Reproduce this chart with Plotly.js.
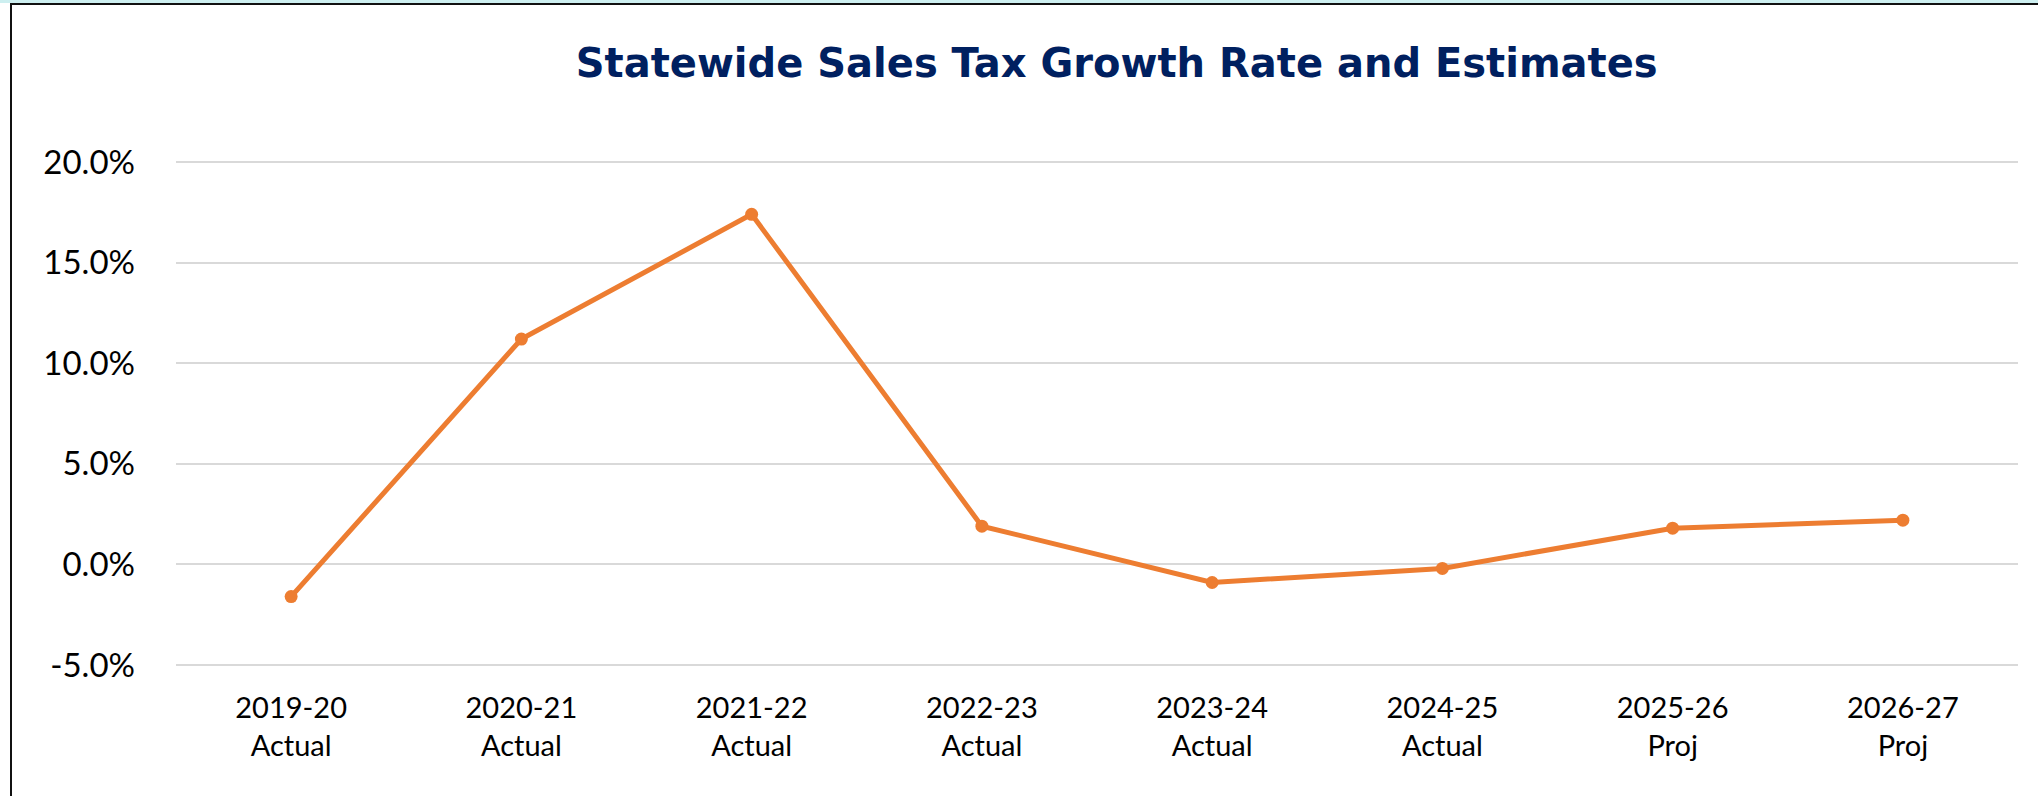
<!DOCTYPE html>
<html>
<head>
<meta charset="utf-8">
<script src="https://cdn.plot.ly/plotly-3.0.1.min.js"></script>
<style>
  html, body { margin: 0; padding: 0; background: #ffffff; }
  #wrap { position: relative; width: 2038px; height: 796px; overflow: hidden; background: #ffffff; }
  #chart { position: absolute; left: 0; top: 0; width: 2038px; height: 796px; }
  #strip { position: absolute; left: 0; top: 0; width: 2038px; height: 3px; background: #cdeff0; }
  #topline { position: absolute; left: 10px; top: 3px; width: 2028px; height: 2px; background: #111111; }
  #leftline { position: absolute; left: 10px; top: 3px; width: 2px; height: 793px; background: #111111; }
</style>
</head>
<body>
<div id="wrap">
  <div id="chart"></div>
  <div id="strip"></div>
  <div id="topline"></div>
  <div id="leftline"></div>
</div>
<script>
// Data (growth rate, %)
const years = ["2019-20", "2020-21", "2021-22", "2022-23", "2023-24", "2024-25", "2025-26", "2026-27"];
const status = ["Actual", "Actual", "Actual", "Actual", "Actual", "Actual", "Proj", "Proj"];
const growthRate = [-1.6, 11.2, 17.4, 1.9, -0.9, -0.2, 1.8, 2.2];
const yTickValues = [-5, 0, 5, 10, 15, 20];
const yTickLabels = ["-5.0%", "0.0%", "5.0%", "10.0%", "15.0%", "20.0%"];

const categories = years.map((y, i) => y + "<br>" + status[i]);

const trace = {
  type: "scatter",
  mode: "lines+markers",
  x: categories,
  y: growthRate,
  line: { color: "#ED7D31", width: 5 },
  marker: { color: "#ED7D31", size: 13 },
  hoverinfo: "x+y",
  showlegend: false
};

const layout = {
  width: 2038,
  height: 796,
  margin: { l: 176, r: 20, t: 161, b: 130, pad: 0 },
  paper_bgcolor: "#ffffff",
  plot_bgcolor: "#ffffff",
  showlegend: false,
  title: {
    text: "<b>Statewide Sales Tax Growth Rate and Estimates</b>",
    font: { family: "DejaVu Sans, Liberation Sans, Arial, sans-serif", size: 40, color: "#002060" },
    xref: "paper",
    x: 0.5107,
    xanchor: "center",
    yref: "container",
    y: 0.921,
    yanchor: "middle"
  },
  xaxis: {
    type: "category",
    range: [-0.5, categories.length - 0.5],
    showgrid: false,
    zeroline: false,
    showline: false,
    ticks: "",
    tickfont: { family: "Lato, Open Sans, sans-serif", size: 29, color: "#000000" },
    ticklabelstandoff: 22,
    fixedrange: true
  },
  yaxis: {
    range: [-5.05, 20.05],
    tickvals: yTickValues,
    ticktext: yTickLabels,
    showgrid: true,
    gridcolor: "#D9D9D9",
    gridwidth: 2,
    zeroline: false,
    showline: false,
    ticks: "",
    tickfont: { family: "Lato, sans-serif", size: 33, color: "#000000" },
    ticklabelstandoff: 40,
    fixedrange: true
  }
};

Plotly.newPlot("chart", [trace], layout, { displayModeBar: false, staticPlot: true });
</script>
</body>
</html>
